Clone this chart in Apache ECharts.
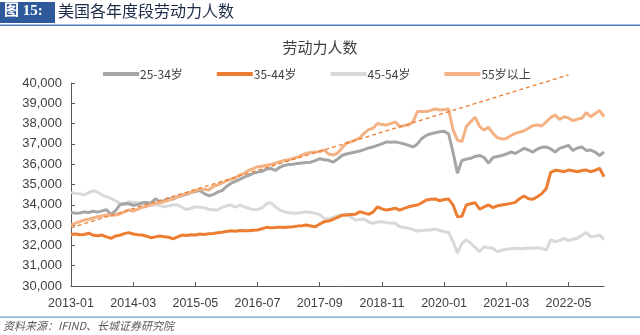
<!DOCTYPE html>
<html><head><meta charset="utf-8">
<script src="https://cdn.jsdelivr.net/npm/echarts@6/dist/echarts.min.js"></script>
<style>html,body{margin:0;padding:0;background:#fff}#c{width:640px;height:335px}</style>
</head><body><div id="c"></div>
<script>
// ---- data ----
const seriesNames = ['25-34岁', '35-44岁', '45-54岁', '55岁以上'];
const startYear = 2013, startMonth = 1, monthCount = 121;
const categories = [];
for (let k = 0; k < monthCount; k++) {
  const m = startMonth - 1 + k;
  const y = startYear + Math.floor(m / 12);
  const mm = (m % 12) + 1;
  categories.push(y + '-' + (mm < 10 ? '0' + mm : mm));
}
const yTicks = [30000, 40000, 1000]; // min, max, step

const age25_34 = [33620,33580,33600,33650,33620,33680,33640,33700,33760,33520,
33700,34000,34060,34050,33980,34000,34100,34120,34080,34300,
34150,34200,34300,34280,34400,34450,34520,34600,34650,34700,
34550,34450,34500,34620,34700,34900,35050,35150,35250,35360,
35450,35550,35610,35650,35760,35790,35690,35850,35940,35980,
36000,36040,36060,36080,36100,36180,36270,36220,36190,36100,
36250,36430,36500,36550,36600,36650,36720,36800,36850,36930,
37000,37100,37080,37100,37050,37000,36930,36850,37000,37270,
37420,37500,37550,37600,37620,37500,36600,35560,36180,36250,
36290,36380,36430,36330,36050,36330,36380,36430,36500,36600,
36530,36650,36780,36700,36600,36750,36830,36850,36750,36600,
36780,36850,36930,36680,36800,36850,36680,36700,36600,36430,36600];

const age35_44 = [32540,32560,32520,32540,32600,32500,32480,32510,32420,32350,
32460,32500,32580,32630,32560,32520,32510,32450,32380,32420,
32460,32430,32400,32320,32420,32510,32490,32520,32510,32560,
32540,32570,32590,32620,32650,32690,32720,32700,32730,32720,
32720,32750,32760,32820,32890,32870,32880,32900,32880,32910,
32920,32950,32970,33000,32960,32920,33050,33170,33200,33280,
33380,33480,33500,33520,33530,33660,33600,33530,33640,33900,
33800,33740,33780,33830,33740,33820,33900,33950,33990,34100,
34240,34270,34290,34200,34260,34290,34000,33410,33430,33990,
34050,34100,33780,33900,33990,33860,33950,33990,34030,34070,
34120,34300,34430,34300,34270,34400,34550,34800,35600,35700,
35680,35630,35710,35680,35630,35690,35710,35630,35700,35800,35380];

const age45_54 = [34600,34560,34550,34480,34600,34690,34620,34480,34400,34300,
34200,34070,34000,34150,34120,34100,34060,34070,33990,34000,
33960,33900,33950,33990,34000,33880,33760,33830,33900,33880,
33860,33780,33760,33740,33880,33950,33990,33880,33990,33900,
33830,33760,33780,33850,34050,34100,33900,33740,33660,33610,
33600,33580,33620,33660,33620,33580,33520,33330,33300,33380,
33460,33500,33530,33400,33250,33280,33300,33150,33090,33150,
33170,33120,33100,33090,32920,32880,32840,32780,32710,32730,
32760,32760,32810,32740,32670,32640,32200,31620,32100,32270,
32100,31900,31690,31940,31880,31860,31690,31760,31810,31840,
31860,31830,31850,31870,31860,31890,31850,31770,32270,32180,
32250,32350,32230,32300,32350,32500,32630,32430,32450,32510,32300];

const age55plus = [33000,33100,33170,33250,33290,33350,33410,33450,33500,33480,
33500,33550,33650,33740,33690,33780,33880,33920,34000,34070,
34100,34150,34220,34320,34380,34480,34550,34620,34690,34780,
34760,34730,34900,34980,35080,35180,35250,35330,35470,35550,
35700,35780,35880,35900,35950,35990,36050,36120,36180,36220,
36290,36350,36450,36540,36580,36600,36620,36700,36500,36450,
36540,36800,37030,37100,37190,37300,37520,37700,37770,38010,
37950,37930,38000,38090,37850,37900,37930,38090,38590,38600,
38590,38650,38720,38670,38690,38720,37700,37190,37110,37850,
38100,38310,37850,37680,37820,37520,37300,37240,37270,37400,
37520,37580,37650,37770,37900,37930,37880,38090,38300,38420,
38210,38340,38280,38140,38220,38260,38540,38340,38500,38640,38340];

const trendCats = ['2013-01', '2022-05'];
const trendVals = [32870, 40400];

// ---- chart ----
const colors = ['#a5a5a5', '#ed7d31', '#d9d9d9', '#f4b183'];
const seriesData = [age25_34, age35_44, age45_54, age55plus];
const numFont = 'Liberation Sans, Arial, sans-serif';
const cjkFont = '"Noto Sans CJK SC", sans-serif';

const chart = echarts.init(document.getElementById('c'), null, {renderer: 'canvas'});
const series = seriesData.map((d, i) => ({
  name: seriesNames[i], type: 'line', data: d, symbol: 'none',
  lineStyle: {width: 3, color: colors[i]}, itemStyle: {color: colors[i]},
  z: [3, 4, 2, 5][i], animation: false
}));
series.push({
  name: 'trend', type: 'line', symbol: 'none', animation: false, z: 6, clip: false,
  data: trendCats.map((c, i) => [c, trendVals[i]]),
  lineStyle: {width: 1.3, type: [4, 3], color: '#ed7d31'}
});

chart.setOption({
  animation: false,
  title: {text: '劳动力人数', left: 'center', top: 35,
    textStyle: {fontFamily: cjkFont, fontSize: 15, fontWeight: 'normal', color: '#404040'}},
  legend: {data: seriesNames, left: 98, top: 63, itemWidth: 36, itemHeight: 4, itemGap: 34,
    icon: 'rect', textStyle: {fontFamily: cjkFont, fontSize: 12, color: '#404040', padding: [0,0,0,-4]}},
  grid: {left: 71, right: 36, top: 83, bottom: 49, containLabel: false},
  xAxis: {type: 'category', data: categories, boundaryGap: false,
    axisLine: {lineStyle: {color: '#595959', width: 1}},
    axisTick: {inside: true, length: 4, interval: 13, lineStyle: {color: '#595959'}},
    axisLabel: {interval: 13, margin: 11, fontFamily: numFont, fontSize: 12.5, color: '#404040'},
    splitLine: {show: false}},
  yAxis: {type: 'value', min: yTicks[0], max: yTicks[1], interval: yTicks[2],
    axisLine: {show: true, lineStyle: {color: '#595959', width: 1}},
    axisTick: {show: true, inside: true, length: 4, lineStyle: {color: '#595959'}},
    axisLabel: {margin: 9, fontFamily: numFont, fontSize: 13, color: '#404040',
      formatter: v => v.toLocaleString('en-US')},
    splitLine: {show: false}},
  series: series,
  graphic: [
    {type: 'rect', shape: {x: 0, y: 2, width: 55, height: 21}, style: {fill: '#2e5a9c'}},
    {type: 'text', left: 4, top: 4, style: {text: '图 15:', fill: '#ffffff',
      font: 'bold 15px "Liberation Serif", "Noto Sans CJK SC", serif'}},
    {type: 'text', left: 58, top: 3, style: {text: '美国各年度段劳动力人数', fill: '#1c2a48',
      font: '16px "Noto Sans CJK SC", sans-serif'}},
    {type: 'rect', shape: {x: 0, y: 24.5, width: 640, height: 1.5}, style: {fill: '#4f7fbf'}},
    {type: 'rect', shape: {x: 0, y: 316.5, width: 640, height: 1.2}, style: {fill: '#6a95cc'}},
    {type: 'text', left: 3, top: 320, style: {text: '资料来源：IFIND、长城证券研究院', fill: '#595959',
      font: 'italic 11px "Noto Sans CJK SC", sans-serif'}}
  ]
});
</script></body></html>
